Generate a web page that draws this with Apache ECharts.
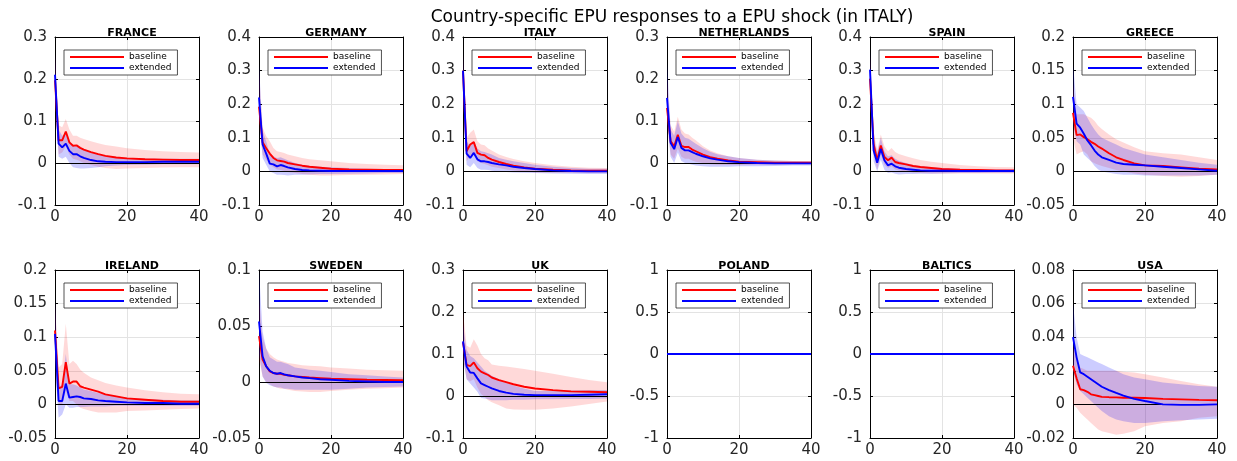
<!DOCTYPE html>
<html><head><meta charset="utf-8">
<script src="https://cdn.jsdelivr.net/npm/echarts@6/dist/echarts.min.js"></script>
<style>html,body{margin:0;padding:0;background:#fff}#c{width:1237px;height:461px}</style>
</head><body><div id="c"></div>
<script>
// Horizons (x values) at which the responses were read
const H = [0,1,2,3,4,5,6,7,8,10,12,14,17,20,25,30,35,40];
const countries = ['FRANCE','GERMANY','ITALY','NETHERLANDS','SPAIN','GREECE','IRELAND','SWEDEN','UK','POLAND','BALTICS','USA'];
const yMin  = [-0.1,-0.1,-0.1,-0.1,-0.1,-0.05,-0.05,-0.05,-0.1,-1,-1,-0.02];
const yMax  = [0.3,0.4,0.4,0.3,0.4,0.2,0.2,0.1,0.3,1,1,0.08];
const yStep = [0.1,0.1,0.1,0.1,0.1,0.05,0.05,0.05,0.1,0.5,0.5,0.02];
const xMin = 0, xMax = 40, xStep = 20;

const franceBase   = [0.197,0.054,0.054,0.075,0.049,0.041,0.042,0.036,0.032,0.026,0.021,0.017,0.013,0.011,0.009,0.008,0.007,0.007];
const franceBaseLo = [0.14,0.02,0.025,0.04,0.02,0.01,0.008,0.004,0.0,-0.005,-0.009,-0.012,-0.014,-0.013,-0.012,-0.011,-0.01,-0.01];
const franceBaseHi = [0.26,0.09,0.085,0.105,0.08,0.065,0.065,0.06,0.057,0.052,0.047,0.043,0.039,0.035,0.031,0.028,0.026,0.025];
const franceExt    = [0.21,0.046,0.037,0.046,0.029,0.021,0.021,0.016,0.012,0.007,0.004,0.003,0.002,0.002,0.002,0.003,0.003,0.003];
const franceExtLo  = [0.17,0.015,0.01,0.015,0.0,-0.01,-0.012,-0.013,-0.013,-0.012,-0.01,-0.008,-0.006,-0.005,-0.004,-0.003,-0.003,-0.003];
const franceExtHi  = [0.26,0.08,0.065,0.07,0.05,0.04,0.04,0.036,0.031,0.025,0.02,0.017,0.014,0.012,0.011,0.01,0.01,0.01];

const germanyBase   = [0.193,0.087,0.069,0.053,0.04,0.033,0.031,0.029,0.025,0.021,0.017,0.014,0.011,0.008,0.006,0.005,0.004,0.004];
const germanyBaseLo = [0.14,0.05,0.035,0.02,0.012,0.006,0.004,0.001,-0.002,-0.005,-0.008,-0.01,-0.012,-0.012,-0.011,-0.01,-0.009,-0.008];
const germanyBaseHi = [0.3,0.13,0.105,0.09,0.07,0.06,0.058,0.055,0.05,0.045,0.04,0.036,0.033,0.03,0.025,0.022,0.02,0.018];
const germanyExt    = [0.22,0.08,0.053,0.023,0.021,0.015,0.019,0.016,0.012,0.007,0.004,0.003,0.002,0.001,0.001,0.001,0.001,0.001];
const germanyExtLo  = [0.17,0.04,0.02,0.0,-0.005,-0.01,-0.01,-0.011,-0.012,-0.01,-0.01,-0.009,-0.008,-0.008,-0.007,-0.006,-0.005,-0.005];
const germanyExtHi  = [0.32,0.12,0.09,0.05,0.045,0.04,0.042,0.038,0.033,0.025,0.02,0.017,0.014,0.012,0.01,0.008,0.007,0.006];

const italyBase   = [0.3,0.06,0.08,0.087,0.055,0.05,0.048,0.04,0.035,0.028,0.022,0.017,0.012,0.008,0.005,0.003,0.002,0.002];
const italyBaseLo = [0.25,0.03,0.045,0.05,0.03,0.025,0.022,0.018,0.014,0.01,0.006,0.003,0.0,-0.003,-0.004,-0.005,-0.005,-0.005];
const italyBaseHi = [0.35,0.1,0.115,0.125,0.09,0.08,0.078,0.068,0.062,0.05,0.043,0.037,0.03,0.025,0.018,0.014,0.011,0.01];
const italyExt    = [0.3,0.053,0.04,0.055,0.036,0.03,0.03,0.028,0.025,0.021,0.018,0.014,0.01,0.007,0.003,0.001,0.0,0.0];
const italyExtLo  = [0.25,0.02,0.012,0.025,0.01,0.005,0.005,0.004,0.002,0.0,-0.002,-0.003,-0.004,-0.005,-0.006,-0.007,-0.008,-0.008];
const italyExtHi  = [0.35,0.09,0.075,0.09,0.068,0.06,0.058,0.054,0.05,0.04,0.035,0.03,0.025,0.02,0.014,0.01,0.008,0.008];

const nethBase   = [0.131,0.052,0.04,0.067,0.041,0.038,0.038,0.032,0.028,0.02,0.014,0.01,0.006,0.003,0.002,0.001,0.001,0.001];
const nethBaseLo = [0.1,0.02,0.01,0.035,0.015,0.01,0.01,0.006,0.003,0.0,-0.003,-0.004,-0.005,-0.005,-0.004,-0.004,-0.003,-0.003];
const nethBaseHi = [0.2,0.09,0.075,0.11,0.08,0.07,0.068,0.06,0.054,0.04,0.03,0.023,0.016,0.012,0.008,0.006,0.005,0.005];
const nethExt    = [0.155,0.048,0.033,0.062,0.036,0.03,0.03,0.026,0.022,0.016,0.011,0.008,0.004,0.002,0.0,-0.001,-0.001,-0.001];
const nethExtLo  = [0.1,0.015,0.0,0.025,0.005,0.0,-0.002,-0.004,-0.006,-0.008,-0.009,-0.009,-0.009,-0.008,-0.008,-0.007,-0.006,-0.006];
const nethExtHi  = [0.24,0.08,0.065,0.1,0.07,0.06,0.058,0.052,0.046,0.035,0.027,0.021,0.016,0.012,0.008,0.006,0.005,0.004];

const spainBase   = [0.276,0.082,0.033,0.077,0.043,0.033,0.041,0.028,0.025,0.021,0.016,0.013,0.01,0.007,0.005,0.004,0.003,0.003];
const spainBaseLo = [0.22,0.05,0.005,0.05,0.02,0.01,0.015,0.006,0.003,0.0,-0.003,-0.005,-0.006,-0.006,-0.006,-0.006,-0.006,-0.006];
const spainBaseHi = [0.35,0.12,0.065,0.11,0.075,0.06,0.07,0.058,0.052,0.045,0.039,0.034,0.029,0.025,0.019,0.015,0.013,0.012];
const spainExt    = [0.303,0.062,0.026,0.067,0.033,0.018,0.023,0.015,0.011,0.007,0.005,0.003,0.002,0.002,0.001,0.001,0.001,0.001];
const spainExtLo  = [0.25,0.03,0.0,0.035,0.005,-0.005,-0.003,-0.007,-0.009,-0.008,-0.008,-0.007,-0.007,-0.006,-0.005,-0.005,-0.004,-0.004];
const spainExtHi  = [0.36,0.1,0.055,0.1,0.06,0.045,0.048,0.038,0.032,0.025,0.019,0.016,0.013,0.01,0.008,0.007,0.006,0.006];

const greeceBase   = [0.087,0.054,0.055,0.051,0.048,0.044,0.041,0.037,0.034,0.027,0.021,0.017,0.012,0.009,0.008,0.006,0.004,0.003];
const greeceBaseLo = [0.05,0.025,0.028,0.03,0.025,0.015,0.012,0.01,0.008,0.005,0.002,0.0,-0.003,-0.005,-0.007,-0.008,-0.007,-0.005];
const greeceBaseHi = [0.13,0.085,0.085,0.085,0.082,0.08,0.075,0.068,0.063,0.055,0.048,0.043,0.036,0.03,0.027,0.025,0.021,0.017];
const greeceExt    = [0.111,0.071,0.065,0.056,0.046,0.039,0.031,0.025,0.021,0.017,0.013,0.011,0.01,0.009,0.007,0.005,0.003,0.001];
const greeceExtLo  = [0.07,0.045,0.04,0.025,0.02,0.015,0.008,0.003,0.0,-0.002,-0.004,-0.005,-0.005,-0.006,-0.006,-0.006,-0.006,-0.005];
const greeceExtHi  = [0.16,0.1,0.095,0.09,0.08,0.07,0.062,0.055,0.05,0.045,0.04,0.035,0.03,0.025,0.021,0.017,0.013,0.01];

const irelandBase   = [0.11,0.024,0.026,0.063,0.031,0.034,0.034,0.027,0.025,0.022,0.019,0.015,0.012,0.009,0.007,0.005,0.004,0.004];
const irelandBaseLo = [0.07,0.0,0.0,0.02,0.005,0.005,0.0,-0.005,-0.007,-0.01,-0.012,-0.012,-0.012,-0.01,-0.009,-0.008,-0.007,-0.006];
const irelandBaseHi = [0.15,0.055,0.06,0.12,0.06,0.065,0.06,0.052,0.047,0.04,0.036,0.032,0.028,0.025,0.021,0.018,0.016,0.015];
const irelandExt    = [0.105,0.005,0.005,0.031,0.01,0.011,0.012,0.011,0.009,0.008,0.006,0.005,0.004,0.003,0.002,0.002,0.001,0.001];
const irelandExtLo  = [0.06,-0.02,-0.015,0.0,-0.005,-0.005,-0.004,-0.004,-0.004,-0.003,-0.003,-0.003,-0.002,-0.002,-0.002,-0.002,-0.002,-0.002];
const irelandExtHi  = [0.155,0.025,0.03,0.075,0.03,0.03,0.028,0.025,0.022,0.02,0.017,0.015,0.012,0.01,0.008,0.007,0.006,0.006];

const swedenBase   = [0.041,0.02,0.014,0.0095,0.008,0.0074,0.0074,0.0065,0.006,0.005,0.0045,0.004,0.0035,0.003,0.0025,0.002,0.0018,0.0015];
const swedenBaseLo = [0.02,0.005,0.0,-0.002,-0.004,-0.005,-0.006,-0.006,-0.007,-0.008,-0.0085,-0.009,-0.009,-0.008,-0.007,-0.006,-0.0055,-0.005];
const swedenBaseHi = [0.075,0.04,0.03,0.025,0.022,0.02,0.019,0.018,0.017,0.016,0.015,0.0145,0.014,0.013,0.012,0.011,0.0105,0.01];
const swedenExt    = [0.054,0.023,0.014,0.01,0.008,0.0074,0.008,0.0068,0.006,0.005,0.004,0.0035,0.0025,0.002,0.001,0.0005,0.0,0.0];
const swedenExtLo  = [0.025,0.005,-0.001,-0.003,-0.004,-0.005,-0.005,-0.006,-0.006,-0.007,-0.007,-0.007,-0.007,-0.007,-0.006,-0.005,-0.0045,-0.004];
const swedenExtHi  = [0.1,0.045,0.03,0.022,0.02,0.018,0.018,0.017,0.016,0.013,0.012,0.011,0.01,0.009,0.007,0.006,0.005,0.004];

const ukBase   = [0.128,0.074,0.071,0.08,0.066,0.058,0.054,0.05,0.044,0.038,0.033,0.028,0.022,0.018,0.014,0.011,0.01,0.009];
const ukBaseLo = [0.09,0.04,0.035,0.04,0.02,0.005,-0.002,-0.01,-0.015,-0.022,-0.03,-0.032,-0.033,-0.033,-0.03,-0.025,-0.019,-0.013];
const ukBaseHi = [0.2,0.12,0.115,0.135,0.12,0.1,0.09,0.085,0.075,0.072,0.07,0.068,0.064,0.06,0.053,0.045,0.038,0.033];
const ukExt    = [0.13,0.07,0.056,0.055,0.042,0.03,0.026,0.022,0.018,0.012,0.008,0.005,0.003,0.002,0.002,0.002,0.003,0.004];
const ukExtLo  = [0.09,0.04,0.03,0.02,0.01,-0.005,-0.006,-0.008,-0.01,-0.01,-0.01,-0.009,-0.009,-0.008,-0.008,-0.007,-0.007,-0.006];
const ukExtHi  = [0.17,0.11,0.095,0.09,0.08,0.07,0.06,0.054,0.048,0.04,0.032,0.025,0.018,0.012,0.012,0.013,0.014,0.014];

const polandBase   = [0,0,0,0,0,0,0,0,0,0,0,0,0,0,0,0,0,0];
const polandBaseLo = [0,0,0,0,0,0,0,0,0,0,0,0,0,0,0,0,0,0];
const polandBaseHi = [0,0,0,0,0,0,0,0,0,0,0,0,0,0,0,0,0,0];
const polandExt    = [0,0,0,0,0,0,0,0,0,0,0,0,0,0,0,0,0,0];
const polandExtLo  = [0,0,0,0,0,0,0,0,0,0,0,0,0,0,0,0,0,0];
const polandExtHi  = [0,0,0,0,0,0,0,0,0,0,0,0,0,0,0,0,0,0];

const balticsBase   = [0,0,0,0,0,0,0,0,0,0,0,0,0,0,0,0,0,0];
const balticsBaseLo = [0,0,0,0,0,0,0,0,0,0,0,0,0,0,0,0,0,0];
const balticsBaseHi = [0,0,0,0,0,0,0,0,0,0,0,0,0,0,0,0,0,0];
const balticsExt    = [0,0,0,0,0,0,0,0,0,0,0,0,0,0,0,0,0,0];
const balticsExtLo  = [0,0,0,0,0,0,0,0,0,0,0,0,0,0,0,0,0,0];
const balticsExtHi  = [0,0,0,0,0,0,0,0,0,0,0,0,0,0,0,0,0,0];

const usaBase   = [0.023,0.0155,0.009,0.0085,0.0075,0.006,0.0055,0.005,0.0045,0.0043,0.0042,0.004,0.004,0.0038,0.0033,0.003,0.0027,0.0025];
const usaBaseLo = [0.0,-0.002,-0.005,-0.007,-0.009,-0.011,-0.013,-0.015,-0.016,-0.017,-0.018,-0.0175,-0.016,-0.013,-0.011,-0.01,-0.008,-0.007];
const usaBaseHi = [0.035,0.028,0.022,0.021,0.02,0.02,0.02,0.02,0.02,0.02,0.02,0.0195,0.019,0.018,0.016,0.014,0.012,0.0105];
const usaExt    = [0.04,0.028,0.019,0.018,0.0165,0.015,0.0135,0.012,0.0105,0.0085,0.0068,0.0052,0.0033,0.002,0.0,-0.0003,-0.0003,0.0];
const usaExtLo  = [0.02,0.012,0.008,0.006,0.004,0.002,0.0,-0.002,-0.004,-0.007,-0.009,-0.01,-0.011,-0.011,-0.01,-0.0095,-0.009,-0.0085];
const usaExtHi  = [0.06,0.04,0.03,0.029,0.028,0.027,0.026,0.025,0.024,0.022,0.02,0.018,0.016,0.015,0.013,0.012,0.011,0.0105];

const baseline   = [franceBase,germanyBase,italyBase,nethBase,spainBase,greeceBase,irelandBase,swedenBase,ukBase,polandBase,balticsBase,usaBase];
const baselineLo = [franceBaseLo,germanyBaseLo,italyBaseLo,nethBaseLo,spainBaseLo,greeceBaseLo,irelandBaseLo,swedenBaseLo,ukBaseLo,polandBaseLo,balticsBaseLo,usaBaseLo];
const baselineHi = [franceBaseHi,germanyBaseHi,italyBaseHi,nethBaseHi,spainBaseHi,greeceBaseHi,irelandBaseHi,swedenBaseHi,ukBaseHi,polandBaseHi,balticsBaseHi,usaBaseHi];
const extended   = [franceExt,germanyExt,italyExt,nethExt,spainExt,greeceExt,irelandExt,swedenExt,ukExt,polandExt,balticsExt,usaExt];
const extendedLo = [franceExtLo,germanyExtLo,italyExtLo,nethExtLo,spainExtLo,greeceExtLo,irelandExtLo,swedenExtLo,ukExtLo,polandExtLo,balticsExtLo,usaExtLo];
const extendedHi = [franceExtHi,germanyExtHi,italyExtHi,nethExtHi,spainExtHi,greeceExtHi,irelandExtHi,swedenExtHi,ukExtHi,polandExtHi,balticsExtHi,usaExtHi];

// layout
const colLeft = [55,259,463,667,870,1073];
const rowTop = [37,270];
const PW = 144, PH = 168;
const FONT = 'DejaVu Sans';
const AX = '#000';

const grids = [], xAxes = [], yAxes = [], series = [], titles = [], legends = [];
titles.push({text:'Country-specific EPU responses to a EPU shock (in ITALY)', left:667, top:4, textAlign:'center',
  textStyle:{fontFamily:FONT, fontSize:17, fontWeight:'normal', color:'#000'}});

// band drawn as one polygon through the axis scales (upper edge forward, lower edge back)
function bandSeries(xi, yi, lo, hi, color) {
  return {
    type:'custom', xAxisIndex:xi, yAxisIndex:yi, silent:true, z:2,
    data:H.map((h,i)=>[h, lo[i], hi[i]]),
    encode:{x:0, y:[1,2]},
    renderItem:function(params, api){
      if (params.dataIndex !== 0) return null;
      const pts = [];
      for (let i=0;i<H.length;i++) pts.push(api.coord([H[i], hi[i]]));
      for (let i=H.length-1;i>=0;i--) pts.push(api.coord([H[i], lo[i]]));
      return {type:'polygon', shape:{points:pts}, style:{fill:color, stroke:null}};
    }
  };
}

const axLine = {show:true, onZero:false, lineStyle:{color:AX, width:1}};
const grid = {show:true, lineStyle:{color:'#e3e3e3', width:1}, showMinLine:false, showMaxLine:false};

countries.forEach((name,k)=>{
  const L = colLeft[k%6], T = rowTop[Math.floor(k/6)];
  grids.push({left:L, top:T, width:PW, height:PH, show:true, borderWidth:0, backgroundColor:'#fff'});
  titles.push({text:name, left:L+PW/2, top:T-14, textAlign:'center',
    textStyle:{fontFamily:FONT, fontSize:11, fontWeight:'bold', color:'#000'}});
  const tick = {show:true, inside:true, length:3, lineStyle:{color:AX, width:1}};
  xAxes.push({gridIndex:k, type:'value', min:xMin, max:xMax, interval:xStep, position:'bottom',
    axisLine:axLine, axisTick:tick,
    axisLabel:{fontFamily:FONT, fontSize:15, color:'#262626', margin:5},
    splitLine:grid});
  xAxes.push({gridIndex:k, type:'value', min:xMin, max:xMax, interval:xStep, position:'top',
    axisLine:axLine, axisTick:tick, axisLabel:{show:false}, splitLine:{show:false}});
  yAxes.push({gridIndex:k, type:'value', min:yMin[k], max:yMax[k], interval:yStep[k], position:'left',
    axisLine:axLine, axisTick:tick,
    axisLabel:{fontFamily:FONT, fontSize:15, color:'#262626', margin:8},
    splitLine:grid});
  yAxes.push({gridIndex:k, type:'value', min:yMin[k], max:yMax[k], interval:yStep[k], position:'right',
    axisLine:axLine, axisTick:tick, axisLabel:{show:false}, splitLine:{show:false}});
  const xi = 2*k, yi = 2*k;
  series.push(bandSeries(xi, yi, baselineLo[k], baselineHi[k], 'rgba(255,0,0,0.15)'));
  series.push(bandSeries(xi, yi, extendedLo[k], extendedHi[k], 'rgba(0,0,255,0.2)'));
  series.push({type:'line', name:'baseline', xAxisIndex:xi, yAxisIndex:yi, data:H.map((h,i)=>[h, baseline[k][i]]),
    symbol:'none', color:'#ff0000', lineStyle:{color:'#ff0000', width:1.9}, z:4,
    markLine:{silent:true, symbol:'none', label:{show:false}, lineStyle:{color:'#000', width:1, type:'solid'},
      data:[{yAxis:0}], animation:false, z:3}});
  series.push({type:'line', name:'extended', xAxisIndex:xi, yAxisIndex:yi, data:H.map((h,i)=>[h, extended[k][i]]),
    symbol:'none', color:'#0000ff', lineStyle:{color:'#0000ff', width:1.9}, z:5});
  legends.push({data:['baseline','extended'], left:L+9, top:T+13, orient:'vertical', selectedMode:false,
    icon:'rect', itemWidth:54, itemHeight:2, itemGap:1, padding:[2,6,2,6],
    borderColor:'#262626', borderWidth:0.8, backgroundColor:'#fff',
    textStyle:{fontFamily:FONT, fontSize:9, color:'#000', lineHeight:10}});
});

const chart = echarts.init(document.getElementById('c'), null, {renderer:'canvas'});
chart.setOption({animation:false, backgroundColor:'#fff', title:titles, legend:legends,
  grid:grids, xAxis:xAxes, yAxis:yAxes, series:series});
</script>
</body></html>
